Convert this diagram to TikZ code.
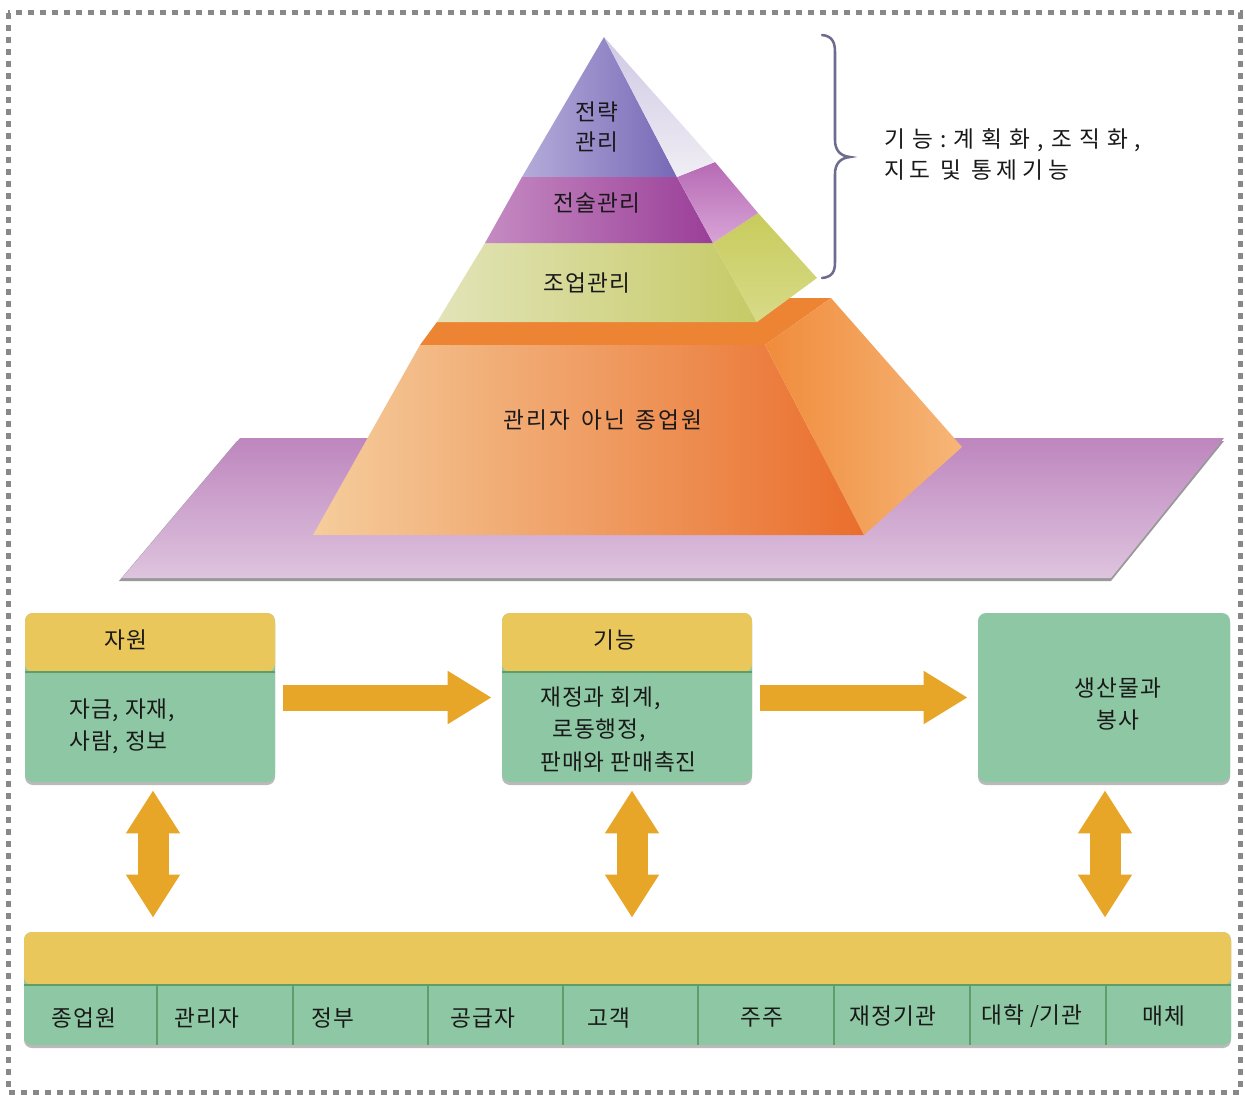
\documentclass[tikz,border=0pt]{standalone}
\usepackage{fontspec}
\newfontfamily\kr[LetterSpace=4]{Noto Sans CJK KR}
\newfontfamily\krw[LetterSpace=31]{Noto Sans CJK KR}
\newfontfamily\krm[LetterSpace=21]{Noto Sans CJK KR}
\newfontfamily\krp[LetterSpace=10]{Noto Sans CJK KR}
\usetikzlibrary{arrows.meta,shadows}
\definecolor{hdr}{HTML}{EAC75A}
\definecolor{grn}{HTML}{8EC7A3}
\definecolor{divl}{HTML}{5E9E6A}
\definecolor{arr}{HTML}{E8A628}
\definecolor{brc}{HTML}{6E6C8E}
\definecolor{bord}{HTML}{888888}
\definecolor{planeT}{RGB}{190,134,190}
\definecolor{planeB}{RGB}{222,196,222}
\definecolor{orTop}{RGB}{236,132,52}
\definecolor{orFL}{RGB}{245,205,156}
\definecolor{orFR}{RGB}{234,110,44}
\definecolor{orSL}{RGB}{240,140,60}
\definecolor{orSR}{RGB}{246,182,120}
\definecolor{ygFL}{RGB}{226,228,184}
\definecolor{ygFR}{RGB}{198,202,102}
\definecolor{ygST}{RGB}{200,204,92}
\definecolor{ygSB}{RGB}{216,218,136}
\definecolor{mgFL}{RGB}{197,139,194}
\definecolor{mgFR}{RGB}{154,62,152}
\definecolor{mgST}{RGB}{182,106,180}
\definecolor{mgSB}{RGB}{216,164,214}
\definecolor{puFL}{RGB}{180,172,218}
\definecolor{puFR}{RGB}{120,104,182}
\definecolor{puST}{RGB}{207,200,228}
\definecolor{puSB}{RGB}{240,238,244}
\tikzset{
  txt/.style={inner sep=0pt, text=black!90},
  box/.style={rounded corners=6pt, fill=grn, minimum height=126.75pt, inner sep=0pt,
    drop shadow={shadow xshift=0pt, shadow yshift=-2.25pt, opacity=0.45, fill=black!60}},
  hdrbox/.style={box, path picture={
      \fill[hdr] (path picture bounding box.north west) rectangle ([yshift=-44.25pt]path picture bounding box.north east);
      \draw[divl, line width=1.5pt] ([yshift=-44.25pt]path picture bounding box.north west) -- ([yshift=-44.25pt]path picture bounding box.north east);}},
  barbox/.style={rounded corners=6pt, fill=grn, minimum width=905.25pt, minimum height=84.75pt, inner sep=0pt,
    drop shadow={shadow xshift=0pt, shadow yshift=-2.25pt, opacity=0.45, fill=black!60},
    path picture={
      \fill[hdr] (path picture bounding box.north west) rectangle ([yshift=-39.75pt]path picture bounding box.north east);
      \draw[divl, line width=1.5pt] ([yshift=-39.75pt]path picture bounding box.north west) -- ([yshift=-39.75pt]path picture bounding box.north east);}},
  fath/.style={arr, line width=19.5pt, -{Triangle[width=37.5pt,length=33pt]}, shorten <=6pt, shorten >=7.5pt},
  fatv/.style={arr, line width=23.25pt, {Triangle[width=38.25pt,length=32.25pt]}-{Triangle[width=38.25pt,length=32.25pt]}, shorten <=6pt, shorten >=10.5pt},
  cellline/.style={divl, line width=1.1pt},
}
\begin{document}
\begin{tikzpicture}[x=0.75pt,y=-0.75pt, font=\kr\fontsize{17}{24}\selectfont]
\useasboundingbox (0,0) rectangle (1245,1095);
\fill[white] (0,0) rectangle (1245,1095);
\draw[bord, line width=3.75pt, dash pattern=on 4.5pt off 4.5pt] (8,13) rectangle (1240,1092);

% purple plane
\fill[black!40] (237,441) -- (1224,441) -- (1111,581) -- (119,581) -- cycle;
\shade[top color=planeT, bottom color=planeB]
  (240,438) -- (1224,438) -- (1111,578) -- (122,578) -- cycle;

% orange base
\fill[orTop] (420,345) -- (765,345) -- (831,298) -- (760,298) -- (757,322) -- (437,322) -- cycle;
\shade[left color=orFL, right color=orFR]
  (420,345) -- (765,345) -- (864,535) -- (313,535) -- cycle;
\shade[left color=orSL, right color=orSR]
  (765,345) -- (831,298) -- (962,447) -- (864,535) -- cycle;

% yellow-green section
\shade[left color=ygFL, right color=ygFR]
  (485,243) -- (713,243) -- (757,322) -- (437,322) -- cycle;
\shade[top color=ygST, bottom color=ygSB]
  (713,243) -- (758,213) -- (817,278) -- (757,322) -- cycle;

% magenta section
\shade[left color=mgFL, right color=mgFR]
  (522,177) -- (677,177) -- (713,243) -- (485,243) -- cycle;
\shade[top color=mgST, bottom color=mgSB]
  (677,177) -- (715,162) -- (758,213) -- (713,243) -- cycle;

% purple top
\shade[left color=puFL, right color=puFR]
  (604,37) -- (677,177) -- (522,177) -- cycle;
\shade[top color=puST, bottom color=puSB]
  (604,37) -- (715,162) -- (677,177) -- cycle;

% pyramid labels
\node[txt] (strat) at (597,129) {\begin{tabular}{@{}c@{}}전략\\[-1pt]관리\end{tabular}};
\node[txt] (tact) at (597,203) {전술관리};
\node[txt] (oper) at (587,283) {조업관리};
\node[txt, font=\krp\fontsize{17}{24}\selectfont] (nonmgr) at (603,420) {관리자\hspace{8pt}아닌\hspace{8pt}종업원};

% brace
\draw[brc, line width=1.9pt, line cap=round]
  (822,35) .. controls (832,36) and (835,42) .. (835,52) -- (835,140)
  .. controls (835,150) and (840,156) .. (850,157)
  .. controls (840,158) and (835,164) .. (835,174) -- (835,262)
  .. controls (835,272) and (832,277) .. (822,278);
\node[txt, anchor=west, font=\krw\fontsize{17}{24}\selectfont] (func1) at (884,140) {기능:계획화,\hspace{6pt}조직화,};
\node[txt, anchor=west, font=\krm\fontsize{17}{24}\selectfont] (func2) at (884,170) {지도 및 통제기능};

% boxes
\node[hdrbox, minimum width=187.5pt] (res) at (150,697.5) {};
\node[hdrbox, minimum width=187.5pt] (fn) at (627,697.5) {};
\node[box, minimum width=189pt] (out) at (1104,697.5) {};

\node[txt] (resh) at (126,640) {자원};
\node[txt, anchor=west, align=left] (resb) at (69,726) {자금, 자재,\\사람, 정보};
\node[txt] (fnh) at (615,640) {기능};
\node[txt, align=left, anchor=west] (fnb1) at (540,698) {재정과 회계,};
\node[txt, align=left, anchor=west] (fnb2) at (552,730) {로동행정,};
\node[txt, align=left, anchor=west] (fnb3) at (540,762) {판매와 판매촉진};
\node[txt, align=center] (outt) at (1118,704) {생산물과\\봉사};

% horizontal arrows
\draw[fath] (res.east) -- (fn.west);
\draw[fath] (fn.east) -- (out.west);

% bottom bar
\node[barbox] (bar) at (627.5,988.5) {};
\foreach \xx in {157,293,428,563,698,834,970,1106} {
  \draw[cellline] (\xx,986) -- (\xx,1045);
}
\node[txt] (c1) at (84,1018) {종업원};
\node[txt] (c2) at (207,1018) {관리자};
\node[txt] (c3) at (333,1018) {정부};
\node[txt] (c4) at (483,1018) {공급자};
\node[txt] (c5) at (609,1018) {고객};
\node[txt] (c6) at (762,1018) {주주};
\node[txt] (c7) at (893,1016) {재정기관};
\node[txt] (c8) at (1032,1016) {대학 /기관};
\node[txt] (c9) at (1164,1016) {매체};

% vertical double arrows
\coordinate (v1) at (153,0);
\coordinate (v2) at (632,0);
\coordinate (v3) at (1105,0);
\draw[fatv] (res.south -| v1) -- (bar.north -| v1);
\draw[fatv] (fn.south -| v2) -- (bar.north -| v2);
\draw[fatv] (out.south -| v3) -- (bar.north -| v3);
\end{tikzpicture}
\end{document}
